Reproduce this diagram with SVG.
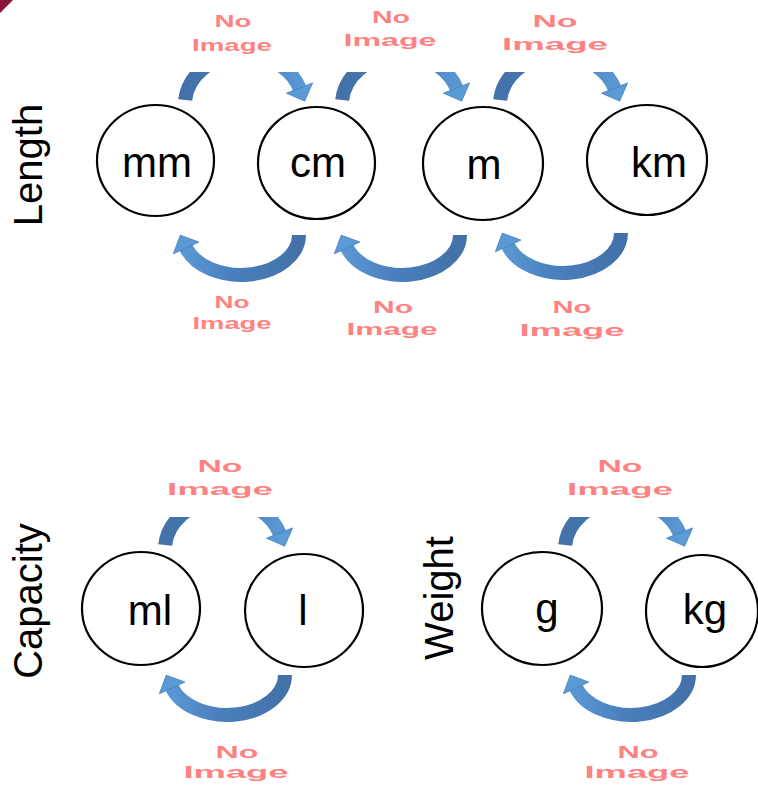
<svg xmlns="http://www.w3.org/2000/svg" width="758" height="785" viewBox="0 0 758 785">
<defs>
<style>
.node ellipse{fill:#fff;stroke:#000;stroke-width:2.2}
.unit{font-family:"Liberation Sans",Arial,sans-serif;font-size:42px;fill:#000;text-anchor:middle}
.axis{font-family:"Liberation Sans",Arial,sans-serif;font-size:40px;fill:#000;text-anchor:middle}
.ph{font-family:"Liberation Sans",Arial,sans-serif;font-weight:bold;font-size:17px;fill:#FF8282;text-anchor:middle}
.shaft{fill:none;stroke-width:14}
</style>
<linearGradient id="gTop" x1="0" y1="0" x2="1" y2="0">
<stop offset="0" stop-color="#4371A8"/><stop offset="0.6" stop-color="#4A80BE"/><stop offset="1" stop-color="#5A97D2"/>
</linearGradient>
<linearGradient id="gBot" x1="1" y1="0" x2="0" y2="0">
<stop offset="0" stop-color="#4371A8"/><stop offset="0.6" stop-color="#4A80BE"/><stop offset="1" stop-color="#5A97D2"/>
</linearGradient>
<marker id="head" markerUnits="userSpaceOnUse" orient="auto" overflow="visible" refX="0" refY="0" markerWidth="1" markerHeight="1">
<polygon points="-1,-14 13,0 -1,14" fill="#5B9BD5" stroke="#4A82BF" stroke-width="0.8"/>
</marker>
<clipPath id="clipTop" clipPathUnits="userSpaceOnUse"><rect x="-100" y="-33" width="200" height="100"/></clipPath>
<path id="arcTop" class="shaft" d="M -58.8,-5 A 59 50 0 0 1 55.9,-16" stroke="url(#gTop)" marker-end="url(#head)" clip-path="url(#clipTop)"/>
<path id="arcBot" class="shaft" d="M 58,0 A 58 40 0 0 1 -55.3,12" stroke="url(#gBot)" marker-end="url(#head)"/>
</defs>

<rect width="758" height="785" fill="#fff"/>
<polygon points="0,0 13,0 0,13" fill="#8B1538"/>

<g id="axis-labels">
<text class="axis" transform="translate(42,165) rotate(-90)">Length</text>
<text class="axis" transform="translate(42,601) rotate(-90)">Capacity</text>
<text class="axis" transform="translate(453,598) rotate(-90)">Weight</text>
</g>

<g id="connectors">
<use href="#arcTop" transform="translate(244,105)"/>
<use href="#arcTop" transform="translate(401,105)"/>
<use href="#arcTop" transform="translate(559,105)"/>
<use href="#arcBot" transform="translate(241,235)"/>
<use href="#arcBot" transform="translate(402,235)"/>
<use href="#arcBot" transform="translate(563,233)"/>
<use href="#arcTop" transform="translate(224,550)"/>
<use href="#arcBot" transform="translate(227,675)"/>
<use href="#arcTop" transform="translate(624,550)"/>
<use href="#arcBot" transform="translate(631,675)"/>
</g>

<g id="connector-labels">
<text class="ph" x="233" y="27" textLength="37" lengthAdjust="spacingAndGlyphs">No</text>
<text class="ph" x="232" y="51" textLength="80" lengthAdjust="spacingAndGlyphs">Image</text>
<text class="ph" x="391" y="23" textLength="38" lengthAdjust="spacingAndGlyphs">No</text>
<text class="ph" x="390" y="46" textLength="93" lengthAdjust="spacingAndGlyphs">Image</text>
<text class="ph" x="555" y="27" textLength="45" lengthAdjust="spacingAndGlyphs">No</text>
<text class="ph" x="555" y="50" textLength="106" lengthAdjust="spacingAndGlyphs">Image</text>
<text class="ph" x="232" y="308" textLength="35" lengthAdjust="spacingAndGlyphs">No</text>
<text class="ph" x="232" y="329" textLength="79" lengthAdjust="spacingAndGlyphs">Image</text>
<text class="ph" x="393" y="313" textLength="40" lengthAdjust="spacingAndGlyphs">No</text>
<text class="ph" x="392" y="335" textLength="91" lengthAdjust="spacingAndGlyphs">Image</text>
<text class="ph" x="572" y="313" textLength="39" lengthAdjust="spacingAndGlyphs">No</text>
<text class="ph" x="572" y="336" textLength="105" lengthAdjust="spacingAndGlyphs">Image</text>
<text class="ph" x="220" y="472" textLength="45" lengthAdjust="spacingAndGlyphs">No</text>
<text class="ph" x="220" y="495" textLength="106" lengthAdjust="spacingAndGlyphs">Image</text>
<text class="ph" x="237" y="758" textLength="43" lengthAdjust="spacingAndGlyphs">No</text>
<text class="ph" x="236" y="778" textLength="105" lengthAdjust="spacingAndGlyphs">Image</text>
<text class="ph" x="620" y="472" textLength="45" lengthAdjust="spacingAndGlyphs">No</text>
<text class="ph" x="620" y="495" textLength="106" lengthAdjust="spacingAndGlyphs">Image</text>
<text class="ph" x="638" y="758" textLength="41" lengthAdjust="spacingAndGlyphs">No</text>
<text class="ph" x="637" y="778" textLength="105" lengthAdjust="spacingAndGlyphs">Image</text>
</g>

<g id="node-mm" class="node"><ellipse cx="155.5" cy="160.5" rx="58.5" ry="55.5"/><text class="unit" x="157" y="177">mm</text></g>
<g id="node-cm" class="node"><ellipse cx="316.5" cy="163" rx="58.5" ry="56"/><text class="unit" x="318" y="177">cm</text></g>
<g id="node-m" class="node"><ellipse cx="483" cy="163.5" rx="60" ry="56.5"/><text class="unit" x="484" y="179">m</text></g>
<g id="node-km" class="node"><ellipse cx="647" cy="160" rx="60" ry="55"/><text class="unit" x="659" y="177">km</text></g>
<g id="node-ml" class="node"><ellipse cx="141" cy="608.5" rx="59" ry="56.5"/><text class="unit" x="150" y="625">ml</text></g>
<g id="node-l" class="node"><ellipse cx="304" cy="610.5" rx="59" ry="56.5"/><text class="unit" x="303" y="625">l</text></g>
<g id="node-g" class="node"><ellipse cx="542" cy="608.5" rx="60" ry="56.5"/><text class="unit" x="547" y="623">g</text></g>
<g id="node-kg" class="node"><ellipse cx="702" cy="611" rx="56" ry="56"/><text class="unit" x="705" y="624">kg</text></g>
</svg>
